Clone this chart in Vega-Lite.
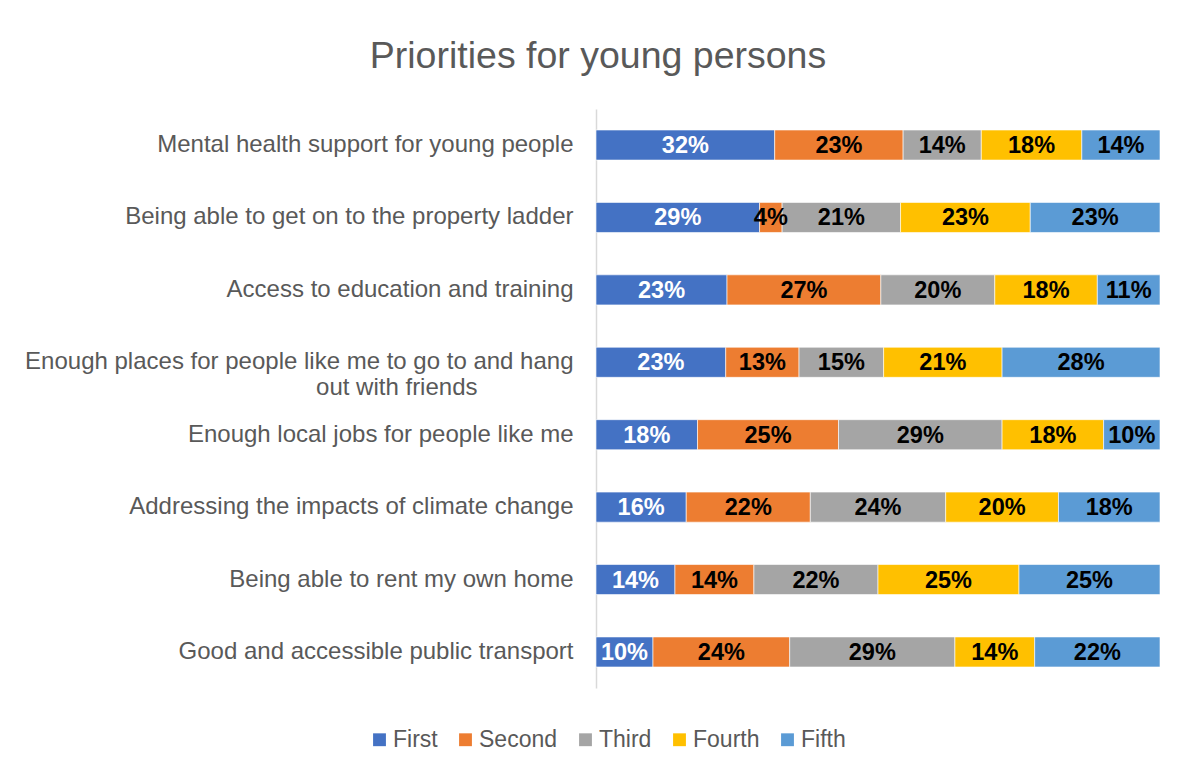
{
  "$schema": "https://vega.github.io/schema/vega-lite/v6.json",
  "width": 564,
  "height": 579,
  "autosize": {"type": "none"},
  "padding": {"left": 596, "top": 109, "right": 17, "bottom": 79},
  "background": "white",
  "title": {
    "text": "Priorities for young persons",
    "fontSize": 37.5,
    "font": "Liberation Sans",
    "fontWeight": "normal",
    "color": "#595959",
    "anchor": "middle",
    "dx": -280,
    "offset": 34
  },
  "data": {
    "values": [
      {"item": "Mental health support for young people", "rank": "First", "r": 1, "share": 0.32},
      {"item": "Mental health support for young people", "rank": "Second", "r": 2, "share": 0.23},
      {"item": "Mental health support for young people", "rank": "Third", "r": 3, "share": 0.14},
      {"item": "Mental health support for young people", "rank": "Fourth", "r": 4, "share": 0.18},
      {"item": "Mental health support for young people", "rank": "Fifth", "r": 5, "share": 0.14},
      {"item": "Being able to get on to the property ladder", "rank": "First", "r": 1, "share": 0.29},
      {"item": "Being able to get on to the property ladder", "rank": "Second", "r": 2, "share": 0.04},
      {"item": "Being able to get on to the property ladder", "rank": "Third", "r": 3, "share": 0.21},
      {"item": "Being able to get on to the property ladder", "rank": "Fourth", "r": 4, "share": 0.23},
      {"item": "Being able to get on to the property ladder", "rank": "Fifth", "r": 5, "share": 0.23},
      {"item": "Access to education and training", "rank": "First", "r": 1, "share": 0.23},
      {"item": "Access to education and training", "rank": "Second", "r": 2, "share": 0.27},
      {"item": "Access to education and training", "rank": "Third", "r": 3, "share": 0.20},
      {"item": "Access to education and training", "rank": "Fourth", "r": 4, "share": 0.18},
      {"item": "Access to education and training", "rank": "Fifth", "r": 5, "share": 0.11},
      {"item": "Enough places for people like me to go to and hang out with friends", "rank": "First", "r": 1, "share": 0.23},
      {"item": "Enough places for people like me to go to and hang out with friends", "rank": "Second", "r": 2, "share": 0.13},
      {"item": "Enough places for people like me to go to and hang out with friends", "rank": "Third", "r": 3, "share": 0.15},
      {"item": "Enough places for people like me to go to and hang out with friends", "rank": "Fourth", "r": 4, "share": 0.21},
      {"item": "Enough places for people like me to go to and hang out with friends", "rank": "Fifth", "r": 5, "share": 0.28},
      {"item": "Enough local jobs for people like me", "rank": "First", "r": 1, "share": 0.18},
      {"item": "Enough local jobs for people like me", "rank": "Second", "r": 2, "share": 0.25},
      {"item": "Enough local jobs for people like me", "rank": "Third", "r": 3, "share": 0.29},
      {"item": "Enough local jobs for people like me", "rank": "Fourth", "r": 4, "share": 0.18},
      {"item": "Enough local jobs for people like me", "rank": "Fifth", "r": 5, "share": 0.10},
      {"item": "Addressing the impacts of climate change", "rank": "First", "r": 1, "share": 0.16},
      {"item": "Addressing the impacts of climate change", "rank": "Second", "r": 2, "share": 0.22},
      {"item": "Addressing the impacts of climate change", "rank": "Third", "r": 3, "share": 0.24},
      {"item": "Addressing the impacts of climate change", "rank": "Fourth", "r": 4, "share": 0.20},
      {"item": "Addressing the impacts of climate change", "rank": "Fifth", "r": 5, "share": 0.18},
      {"item": "Being able to rent my own home", "rank": "First", "r": 1, "share": 0.14},
      {"item": "Being able to rent my own home", "rank": "Second", "r": 2, "share": 0.14},
      {"item": "Being able to rent my own home", "rank": "Third", "r": 3, "share": 0.22},
      {"item": "Being able to rent my own home", "rank": "Fourth", "r": 4, "share": 0.25},
      {"item": "Being able to rent my own home", "rank": "Fifth", "r": 5, "share": 0.25},
      {"item": "Good and accessible public transport", "rank": "First", "r": 1, "share": 0.10},
      {"item": "Good and accessible public transport", "rank": "Second", "r": 2, "share": 0.24},
      {"item": "Good and accessible public transport", "rank": "Third", "r": 3, "share": 0.29},
      {"item": "Good and accessible public transport", "rank": "Fourth", "r": 4, "share": 0.14},
      {"item": "Good and accessible public transport", "rank": "Fifth", "r": 5, "share": 0.22}
    ]
  },
  "encoding": {
    "y": {
      "field": "item",
      "type": "nominal",
      "sort": null,
      "scale": {"paddingInner": 0.585, "paddingOuter": 0.29},
      "axis": {
        "title": null,
        "ticks": false,
        "domainColor": "#D9D9D9",
        "domainWidth": 1.5,
        "labelFont": "Liberation Sans",
        "labelFontSize": 24,
        "labelColor": "#595959",
        "labelPadding": 23,
        "labelLimit": 700,
        "labelLineHeight": 26,
        "labelExpr": "datum.label == 'Enough places for people like me to go to and hang out with friends' ? ['Enough places for people like me to go to and hang', 'out with friends\u2003\u2003\u2003\u2003\u200b'] : datum.label"
      }
    },
    "x": {
      "field": "share",
      "type": "quantitative",
      "stack": "normalize",
      "axis": null
    },
    "order": {"field": "r", "type": "quantitative"}
  },
  "layer": [
    {
      "mark": {"type": "bar", "stroke": "white", "strokeWidth": 0.6},
      "encoding": {
        "color": {
          "field": "rank",
          "type": "nominal",
          "sort": ["First", "Second", "Third", "Fourth", "Fifth"],
          "scale": {
            "domain": ["First", "Second", "Third", "Fourth", "Fifth"],
            "range": ["#4472C4", "#ED7D31", "#A5A5A5", "#FFC000", "#5B9BD5"]
          },
          "legend": {
            "title": null,
            "orient": "none",
            "direction": "horizontal",
            "legendX": -228,
            "legendY": 619,
            "symbolType": "square",
            "symbolSize": 165,
            "symbolStrokeWidth": 0,
            "labelFont": "Liberation Sans",
            "labelFontSize": 23,
            "labelColor": "#595959",
            "labelOffset": 2,
            "columnPadding": 16
          }
        }
      }
    },
    {
      "mark": {"type": "text", "font": "Liberation Sans", "fontWeight": "bold", "fontSize": 23.5, "baseline": "middle", "align": "center", "dy": 1},
      "encoding": {
        "x": {"field": "share", "type": "quantitative", "stack": "normalize", "bandPosition": 0.5},
        "text": {"field": "share", "type": "quantitative", "format": ".0%"},
        "color": {
          "condition": {"test": "datum.rank == 'First'", "value": "white"},
          "value": "black"
        }
      }
    }
  ],
  "config": {
    "view": {"stroke": null},
    "text": {"font": "Liberation Sans"}
  }
}
